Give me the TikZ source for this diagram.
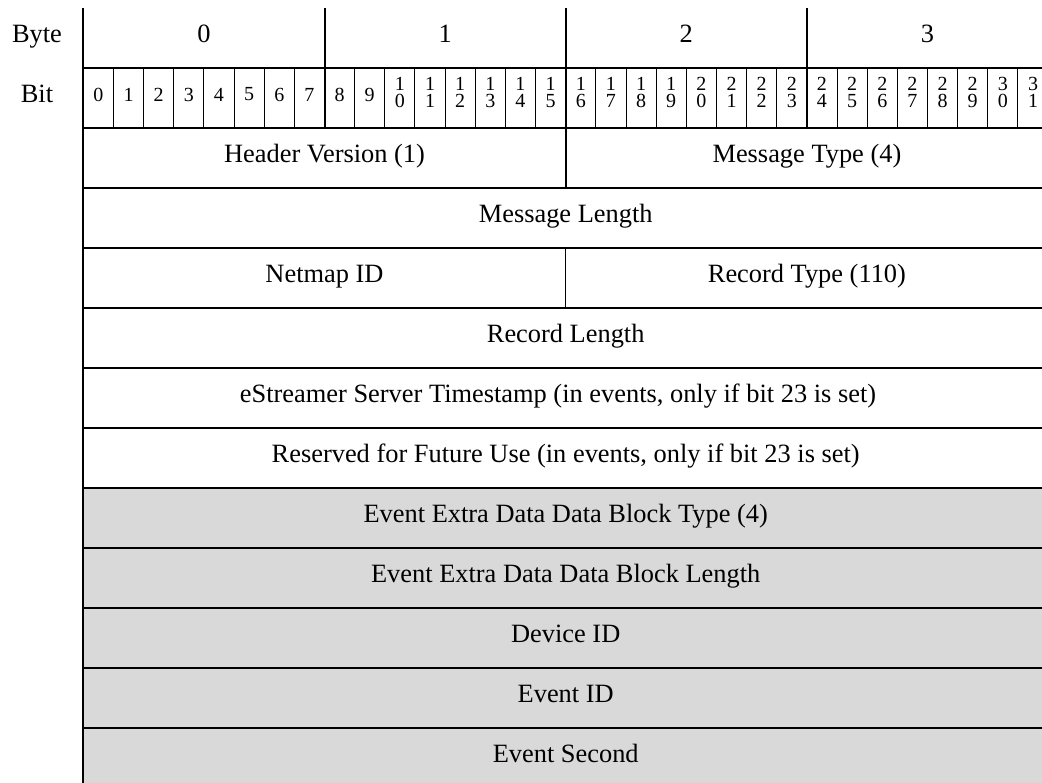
\documentclass[tikz,border=0pt]{standalone}
\usepackage{fontspec}
\setmainfont{Liberation Serif}
\usepackage{xcolor}
\usepackage{tikz}
\definecolor{blockgray}{RGB}{217,217,217}

\begin{document}
\begin{tikzpicture}[
  x=0.5pt, y=-0.5pt,
  field/.style={align=center, inner sep=0pt, text height=0.7em, text depth=0.22em,
    font=\fontsize{13.2}{15}\selectfont},
  bitnum/.style={align=center, inner sep=0pt, font=\fontsize{10}{8.5}\selectfont},
  heavyline/.style={draw=black, line width=1pt},
  lightline/.style={draw=black, line width=0.6pt},
  bitline/.style={draw=black, line width=0.5pt}
]
\useasboundingbox (0,0) rectangle (1042,782);
\fill[blockgray] (83.3,488) rectangle (1048,790);

\foreach \i in {1,...,31}
  \draw[bitline] ({83.3+30.15*\i},68) -- ({83.3+30.15*\i},128);
\foreach \y in {68,128,188,248,308,368}
  \draw[heavyline] (83.3,\y) -- (1048,\y);
\foreach \y in {428,488,548,608,668,728}
  \draw[lightline] (83.3,\y) -- (1048,\y);
\foreach \b in {1,2,3}
  \draw[heavyline] ({83.3+241.2*\b},8) -- ({83.3+241.2*\b},128);
\draw[heavyline] (565.7,128) -- (565.7,188);
\draw[lightline] (565.7,248) -- (565.7,308);
\draw[heavyline] (83.3,8) -- (83.3,790);

\node[field] (bytehdr) at (37,38) {Byte};
\node[field] (bithdr) at (37,98) {Bit};
\foreach \b in {0,...,3}
  \node[field] (byte\b) at ({83.3+241.2*\b+120.6},38) {\b};
\foreach \i in {0,...,9}
  \node[bitnum] (bit\i) at ({83.3+30.15*(\i+0.5)},94.5) {\i};
\foreach \i [evaluate=\i as \tens using {int(\i/10)},
             evaluate=\i as \ones using {int(mod(\i,10))}] in {10,...,31}
  \node[bitnum] (bit\i) at ({83.3+30.15*(\i+0.5)},92.5) {\tens\\\ones};

\node[field] (hdrver) at (324.5,158) {Header Version (1)};
\node[field] (msgtype) at (806.9,158) {Message Type (4)};
\node[field] (msglen) at (565.7,218) {Message Length};
\node[field] (netmap) at (324.5,278) {Netmap ID};
\node[field] (rectype) at (806.9,278) {Record Type (110)};
\node[field] (reclen) at (565.7,338) {Record Length};
\node[field] (tstamp) at (558,398) {eStreamer Server Timestamp (in events, only if bit 23 is set)};
\node[field] (reserved) at (565.7,458) {Reserved for Future Use (in events, only if bit 23 is set)};
\node[field] (blktype) at (565.7,518) {Event Extra Data Data Block Type (4)};
\node[field] (blklen) at (565.7,578) {Event Extra Data Data Block Length};
\node[field] (devid) at (565.7,638) {Device ID};
\node[field] (evid) at (565.7,698) {Event ID};
\node[field] (evsec) at (565.7,758) {Event Second};
\end{tikzpicture}
\end{document}
